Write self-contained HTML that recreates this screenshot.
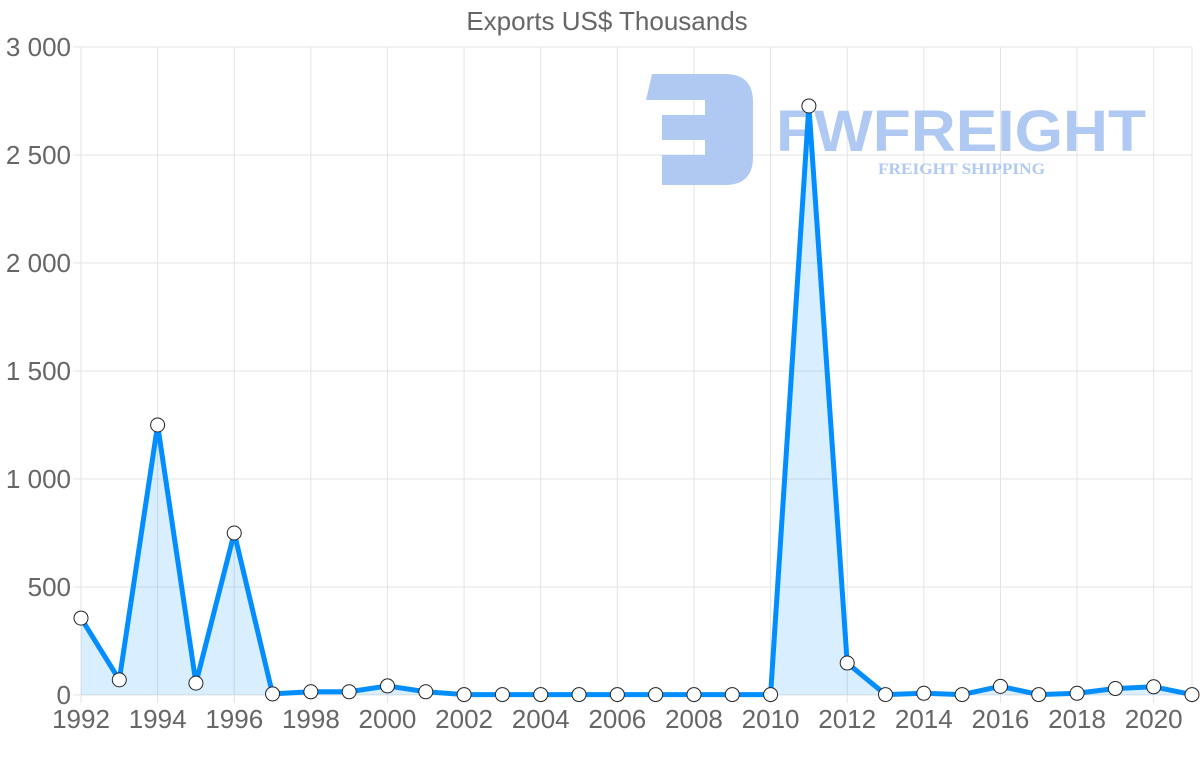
<!DOCTYPE html>
<html><head><meta charset="utf-8"><style>
body{margin:0;background:#fff;}
svg{display:block;font-family:"Liberation Sans",sans-serif;}
</style></head><body>
<svg width="1200" height="763" viewBox="0 0 1200 763" xmlns="http://www.w3.org/2000/svg">
<text x="607" y="30" text-anchor="middle" font-size="26" fill="#666">Exports US$ Thousands</text>
<g stroke="#e3e3e3" stroke-width="1" id="grid"></g>
<g id="logo" fill="#b0c9f2">
  <path d="M652 74 H725 Q753 74 753 102 V157 Q753 185 725 185 H662 V155 H705 V140 H662 V115 H705 V100 H646 Z"/>
  <text x="776" y="151" font-size="58" font-weight="bold" textLength="370" lengthAdjust="spacingAndGlyphs">FWFREIGHT</text>
  <text x="878" y="174" font-size="16" font-weight="bold" font-family="Liberation Serif,serif" textLength="167" lengthAdjust="spacingAndGlyphs">FREIGHT SHIPPING</text>
</g>
<g id="chart"></g>
<g id="labels" font-size="26" fill="#666"></g>
</svg>
<script>
const ns="http://www.w3.org/2000/svg";
const X=y=>81+(y-1992)*38.31, Y=v=>695-v*0.216;
const g=document.getElementById('grid'), L=document.getElementById('labels'), C=document.getElementById('chart');
function el(p,t,a){const e=document.createElementNS(ns,t);for(const k in a)e.setAttribute(k,a[k]);p.appendChild(e);return e;}
for(let yr=1992;yr<=2021;yr+=2){el(g,'line',{x1:X(yr),x2:X(yr),y1:47,y2:703});}
el(g,'line',{x1:1192,x2:1192,y1:47,y2:703});
for(let v=0;v<=3000;v+=500){el(g,'line',{x1:73,x2:1192,y1:Y(v),y2:Y(v)});
 const t=el(L,'text',{x:71,y:Y(v)+9,'text-anchor':'end'});t.textContent=v==0?'0':(Math.floor(v/1000)?Math.floor(v/1000)+' '+String(v%1000).padStart(3,'0'):String(v));}
for(let yr=1992;yr<=2020;yr+=2){const t=el(L,'text',{x:X(yr),y:728,'text-anchor':'middle'});t.textContent=yr;}
const d=[356,70,1250,55,750,5,15,15,42,15,2,2,2,2,2,2,2,2,2,2727,148,2,8,2,40,2,8,30,38,2];
let pts=d.map((v,i)=>[X(1992+i),Y(v)]);
el(C,'path',{d:'M'+pts.map(p=>p.join(',')).join(' L')+` L${X(2021)},695 L81,695 Z`,fill:'rgba(3,142,255,0.15)'});
el(C,'polyline',{points:pts.map(p=>p.join(',')).join(' '),fill:'none',stroke:'#038eff','stroke-width':5,'stroke-linejoin':'round'});
pts.forEach(p=>el(C,'circle',{cx:p[0],cy:p[1],r:7,fill:'#fff',stroke:'#222','stroke-width':1}));
</script>
</body></html>
